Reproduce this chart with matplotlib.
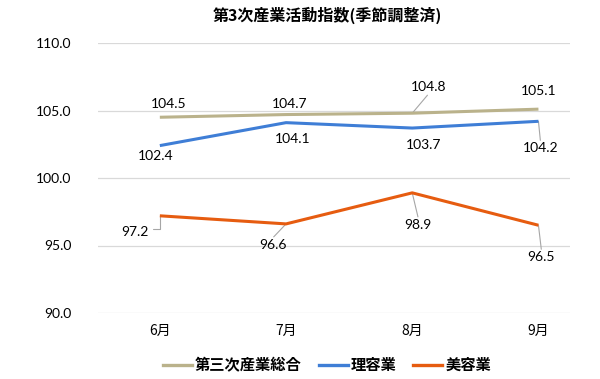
import matplotlib
matplotlib.use("Agg")
import matplotlib.pyplot as plt
from matplotlib.lines import Line2D

categories = ["6月", "7月", "8月", "9月"]
sougou = [104.5, 104.7, 104.8, 105.1]
riyou = [102.4, 104.1, 103.7, 104.2]
biyou = [97.2, 96.6, 98.9, 96.5]
series_names = ["第三次産業総合", "理容業", "美容業"]
yticks = [90.0, 95.0, 100.0, 105.0, 110.0]
title = "第3次産業活動指数(季節調整済)"

colors = ["#BAB28B", "#3F7ED6", "#E65C10"]
JP = ["Noto Sans CJK JP", "DejaVu Sans"]
NUM = ["Lato", "DejaVu Sans"]

# label offsets in pixels (dx, dy; dy positive = up) and leader style
offs = [
    [(9, 13, False), (4, 11, False), (16, 26, True), (0, 18, False)],
    [(-4, -10, False), (7, -16, False), (11, -17, False), (2, -27, True)],
    [(-25, -16, "elbow"), (-13, -21, True), (6, -32, True), (3, -32, True)],
]

fig = plt.figure(figsize=(6.0, 3.79), dpi=100)
ax = fig.add_axes([98/600, 1-313/379, (570-98)/600, (313-43)/379])

x = list(range(len(categories)))
data = [sougou, riyou, biyou]
for vals, col in zip(data, colors):
    ax.plot(x, vals, color=col, lw=2.2, solid_capstyle="butt", zorder=3)

for si, vals in enumerate(data):
    for i, v in enumerate(vals):
        dx, dy, lead = offs[si][i]
        ax.annotate(f"{v:.1f}", xy=(i, v), xytext=(dx, dy), textcoords="offset pixels",
                    ha="center", va="center", fontsize=10, family=NUM, color="#000000", zorder=4)
        if lead is True:
            ax.annotate("", xy=(i, v), xytext=(dx * 0.95, dy - (8 if dy > 0 else -8)),
                        textcoords="offset pixels",
                        arrowprops=dict(arrowstyle="-", color="#A6A6A6", lw=0.8,
                                        shrinkA=0, shrinkB=0), zorder=2)
        elif lead == "elbow":
            ax.annotate("", xy=(i, v), xytext=(-7, -13), textcoords="offset pixels",
                        arrowprops=dict(arrowstyle="-", color="#A6A6A6", lw=0.8,
                                        connectionstyle="angle,angleA=0,angleB=90,rad=0",
                                        shrinkA=0, shrinkB=0), zorder=2)

ax.set_xlim(-0.49, 3.25)
ax.set_ylim(90, 110)
ax.set_yticks(yticks)
ax.set_yticklabels([f"{t:.1f}" for t in yticks], family=NUM, fontsize=10)
ax.set_xticks(x)
ax.set_xticklabels(categories, family=JP, fontsize=10)
ax.tick_params(axis="both", length=0)
ax.tick_params(axis="y", pad=19)
ax.tick_params(axis="x", pad=8)
ax.grid(axis="y", color="#D9D9D9", lw=0.9, zorder=0)
for s in ax.spines.values():
    s.set_visible(False)

fig.text(327/600, 1-15/379, title, ha="center", va="center", family=JP,
         fontsize=11.5, fontweight="bold")

handles = [Line2D([0], [0], color=c, lw=2.4) for c in colors]
leg = fig.legend(handles, series_names, loc="center", bbox_to_anchor=(327/600, 1-365/379),
                 ncol=3, frameon=False, prop={"family": JP, "size": 11, "weight": "bold"},
                 handlelength=1.9, handletextpad=0.2, columnspacing=1.1)

fig.savefig("out.png", dpi=100, facecolor="white")
